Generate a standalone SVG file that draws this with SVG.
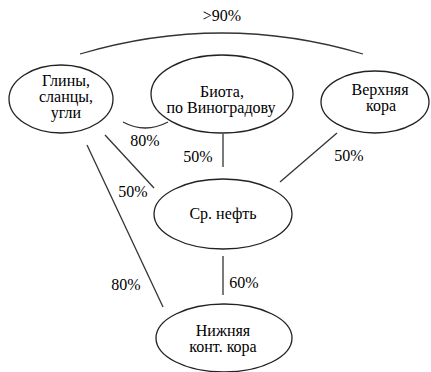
<svg xmlns="http://www.w3.org/2000/svg" width="431" height="372" viewBox="0 0 431 372">
<rect width="431" height="372" fill="#fff"/>
<g id="connectors" fill="none" stroke="#333" stroke-width="1.3">
<path d="M80,54 Q222,12 363,54"/>
<path d="M123,122 Q145,134 168,122"/>
<line x1="223" y1="134" x2="223" y2="167"/>
<line x1="337" y1="133" x2="280" y2="182"/>
<line x1="105" y1="135" x2="154" y2="188"/>
<line x1="87" y1="145" x2="163" y2="307"/>
<line x1="223" y1="256" x2="223" y2="295"/>
</g>
<g id="labels" style="font-family:'Times New Roman','Liberation Serif',serif;font-size:16px" text-anchor="middle">
<text x="222" y="21">&gt;90%</text>
<text x="145" y="146">80%</text>
<text x="198" y="162">50%</text>
<text x="349" y="161">50%</text>
<text x="133" y="197">50%</text>
<text x="126" y="290">80%</text>
<text x="244" y="288">60%</text>
</g>
<g id="n1"><ellipse cx="61" cy="99" rx="52" ry="34" fill="#fff" stroke="#222" stroke-width="1.3"/><text x="66" y="86" style="font-family:'Times New Roman','Liberation Serif',serif;font-size:16px" text-anchor="middle">Глины,</text><text x="66" y="102" style="font-family:'Times New Roman','Liberation Serif',serif;font-size:16px" text-anchor="middle">сланцы,</text><text x="66" y="118" style="font-family:'Times New Roman','Liberation Serif',serif;font-size:16px" text-anchor="middle">угли</text></g>
<g id="n2"><ellipse cx="222" cy="94" rx="71" ry="39" fill="#fff" stroke="#222" stroke-width="1.3"/><text x="222" y="97" style="font-family:'Times New Roman','Liberation Serif',serif;font-size:16px" text-anchor="middle">Биота,</text><text x="221" y="113" style="font-family:'Times New Roman','Liberation Serif',serif;font-size:16px" text-anchor="middle">по Виноградову</text></g>
<g id="n3"><ellipse cx="375" cy="102" rx="54" ry="31" fill="#fff" stroke="#222" stroke-width="1.3"/><text x="380" y="95" style="font-family:'Times New Roman','Liberation Serif',serif;font-size:16px" text-anchor="middle">Верхняя</text><text x="381" y="111" style="font-family:'Times New Roman','Liberation Serif',serif;font-size:16px" text-anchor="middle">кора</text></g>
<g id="n4"><ellipse cx="223" cy="214" rx="69" ry="35" fill="#fff" stroke="#222" stroke-width="1.3"/><text x="223" y="219" style="font-family:'Times New Roman','Liberation Serif',serif;font-size:16px" text-anchor="middle">Ср. нефть</text></g>
<g id="n5"><ellipse cx="224" cy="338" rx="68" ry="34" fill="#fff" stroke="#222" stroke-width="1.3"/><text x="223" y="336" style="font-family:'Times New Roman','Liberation Serif',serif;font-size:16px" text-anchor="middle">Нижняя</text><text x="223" y="352" style="font-family:'Times New Roman','Liberation Serif',serif;font-size:16px" text-anchor="middle">конт. кора</text></g>
</svg>
